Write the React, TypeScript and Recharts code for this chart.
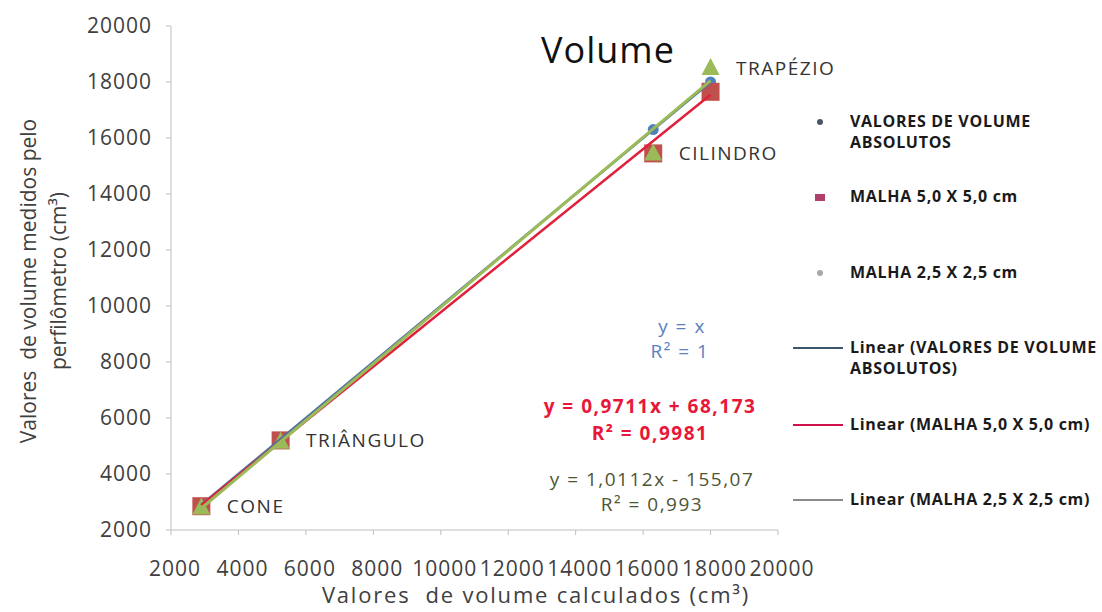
import React from "react";
import {
  ScatterChart,
  Scatter,
  XAxis,
  YAxis,
  LabelList,
} from "recharts";

// calculated volume (x) for each solid
const solids = ["CONE", "TRIÂNGULO", "CILINDRO", "TRAPÉZIO"];
const calculated = [2900, 5250, 16300, 18000];
// measured by the profilometer
const absolutos = [2900, 5250, 16300, 18000];
const malha50 = [2850, 5200, 15450, 17650];
const malha25 = [2800, 5150, 15450, 18500];

// trend line end points
const trendX = [2900, 18000];
const trendAbs = [2900, 18000];
const trend50 = [2884, 17548];
const trend25 = [2777, 18047];

const ticks = [2000, 4000, 6000, 8000, 10000, 12000, 14000, 16000, 18000, 20000];

const FONT = "'Open Sans', sans-serif";

const toPts = (xs: number[], ys: number[]) => xs.map((x, i) => ({ x, y: ys[i] }));

const absData = toPts(calculated, absolutos);
const m50Data = toPts(calculated, malha50);
const m25Data = toPts(calculated, malha25);
const labelData = solids.map((name, i) => ({
  x: calculated[i],
  y: i === 3 ? malha25[i] : malha50[i],
  name,
}));

const Circle = (p: any) => <circle cx={p.cx} cy={p.cy} r={5.5} fill="#4f81bd" />;
const Square = (p: any) => (
  <rect x={p.cx - 9} y={p.cy - 9} width={18} height={18} fill="#c0504d" />
);
const Tri = (p: any) => (
  <path
    d={`M${p.cx},${p.cy - 10} L${p.cx + 9},${p.cy + 7} L${p.cx - 9},${p.cy + 7} Z`}
    fill="#9bbb59"
  />
);
const NoShape = () => <g />;

const tickStyle = { fontSize: 21, fill: "#404040", fontFamily: FONT, letterSpacing: 1 };

function Abs({ x, y, children, style }: any) {
  return (
    <div
      style={{
        position: "absolute",
        left: x,
        top: y,
        transform: "translate(-50%, -50%)",
        whiteSpace: "nowrap",
        lineHeight: 1.15,
        ...style,
      }}
    >
      {children}
    </div>
  );
}

const legendItems = [
  { kind: "dot", color: "#4a5566", lines: ["VALORES DE VOLUME", "ABSOLUTOS"], y: 122 },
  { kind: "sq", color: "#b0406a", lines: ["MALHA 5,0 X 5,0 cm"], y: 197 },
  { kind: "dot", color: "#a8a8a8", lines: ["MALHA 2,5 X 2,5 cm"], y: 273 },
  { kind: "line", color: "#3d5670", lines: ["Linear (VALORES DE VOLUME", "ABSOLUTOS)"], y: 348 },
  { kind: "line", color: "#d0104a", lines: ["Linear (MALHA 5,0 X 5,0 cm)"], y: 425 },
  { kind: "line", color: "#8a8a8a", lines: ["Linear (MALHA 2,5 X 2,5 cm)"], y: 500 },
];

const eqStyle = { fontSize: 19, letterSpacing: 1.5 };

export default function App() {
  return (
    <div
      style={{
        position: "absolute",
        left: 0,
        top: 0,
        width: 1102,
        height: 612,
        background: "#fff",
        fontFamily: FONT,
        overflow: "hidden",
      }}
    >
      <ScatterChart
        width={1102}
        height={612}
        margin={{ top: 26, right: 324, bottom: 0, left: 0 }}
      >
        <XAxis
          type="number"
          dataKey="x"
          domain={[2000, 20000]}
          ticks={ticks}
          interval={0}
          height={82}
          stroke="#bfbfbf"
          tickSize={5}
          tickMargin={26}
          tick={{ ...tickStyle, dx: 4 }}
          allowDataOverflow
        />
        <YAxis
          type="number"
          dataKey="y"
          domain={[2000, 20000]}
          ticks={ticks}
          interval={0}
          width={171}
          stroke="#bfbfbf"
          tickSize={5}
          tickMargin={14}
          tick={tickStyle}
          allowDataOverflow
        />
        <Scatter data={absData} shape={Circle} isAnimationActive={false} />
        <Scatter data={m50Data} shape={Square} isAnimationActive={false} />
        <Scatter data={m25Data} shape={Tri} isAnimationActive={false} />
        <Scatter
          data={toPts(trendX, trendAbs)}
          line={{ stroke: "#4f6fa0", strokeWidth: 2.5 }}
          shape={NoShape}
          isAnimationActive={false}
        />
        <Scatter
          data={toPts(trendX, trend50)}
          line={{ stroke: "#e0203c", strokeWidth: 2.5 }}
          shape={NoShape}
          isAnimationActive={false}
        />
        <Scatter
          data={toPts(trendX, trend25)}
          line={{ stroke: "#9bbb59", strokeWidth: 3 }}
          shape={NoShape}
          isAnimationActive={false}
        />
        <Scatter data={labelData} shape={NoShape} isAnimationActive={false}>
          <LabelList
            dataKey="name"
            position="right"
            offset={21}
            style={{ fontSize: 19, letterSpacing: 1.5, fill: "#333", fontFamily: FONT }}
          />
        </Scatter>
      </ScatterChart>

      {/* title */}
      <Abs x={608} y={50} style={{ fontSize: 36, letterSpacing: 1, color: "#111" }}>
        Volume
      </Abs>

      {/* axis titles */}
      <Abs x={536} y={595} style={{ fontSize: 22, letterSpacing: 1.8, color: "#404040" }}>
        Valores&nbsp; de volume calculados (cm³)
      </Abs>
      <Abs
        x={43}
        y={281}
        style={{
          fontSize: 21,
          color: "#404040",
          textAlign: "center",
          lineHeight: "30px",
          transform: "translate(-50%, -50%) rotate(-90deg)",
        }}
      >
        Valores&nbsp; de volume medidos pelo
        <br />
        perfilômetro (cm³)
      </Abs>

      {/* trend equations */}
      <Abs x={682} y={327} style={{ ...eqStyle, color: "#5b7fc0" }}>y = x</Abs>
      <Abs x={680} y={352} style={{ ...eqStyle, color: "#5b7fc0" }}>R² = 1</Abs>
      <Abs x={650} y={407} style={{ ...eqStyle, fontWeight: 700, color: "#e8173a" }}>
        y = 0,9711x + 68,173
      </Abs>
      <Abs x={650} y={434} style={{ ...eqStyle, fontWeight: 700, color: "#e8173a" }}>
        R² = 0,9981
      </Abs>
      <Abs x={652} y={480} style={{ ...eqStyle, color: "#4e5535" }}>
        y = 1,0112x - 155,07
      </Abs>
      <Abs x={652} y={505} style={{ ...eqStyle, color: "#4e5535" }}>
        R² = 0,993
      </Abs>

      {/* legend */}
      {legendItems.map((it) => (
        <div key={it.lines[0]}>
          {it.kind === "dot" && (
            <div
              style={{
                position: "absolute",
                left: 817,
                top: it.y - 3,
                width: 6,
                height: 6,
                borderRadius: 3,
                background: it.color,
              }}
            />
          )}
          {it.kind === "sq" && (
            <div
              style={{
                position: "absolute",
                left: 815,
                top: it.y - 3,
                width: 10,
                height: 7,
                background: it.color,
              }}
            />
          )}
          {it.kind === "line" && (
            <div
              style={{
                position: "absolute",
                left: 793,
                top: it.y - 1,
                width: 50,
                height: 2,
                background: it.color,
              }}
            />
          )}
          <div
            style={{
              position: "absolute",
              left: 850,
              top: it.y - 11,
              fontSize: 16,
              letterSpacing: 0.7,
              fontWeight: 700,
              color: "#1a1a1a",
              lineHeight: "21px",
              whiteSpace: "nowrap",
            }}
          >
            {it.lines.map((l) => (
              <div key={l}>{l}</div>
            ))}
          </div>
        </div>
      ))}
    </div>
  );
}
